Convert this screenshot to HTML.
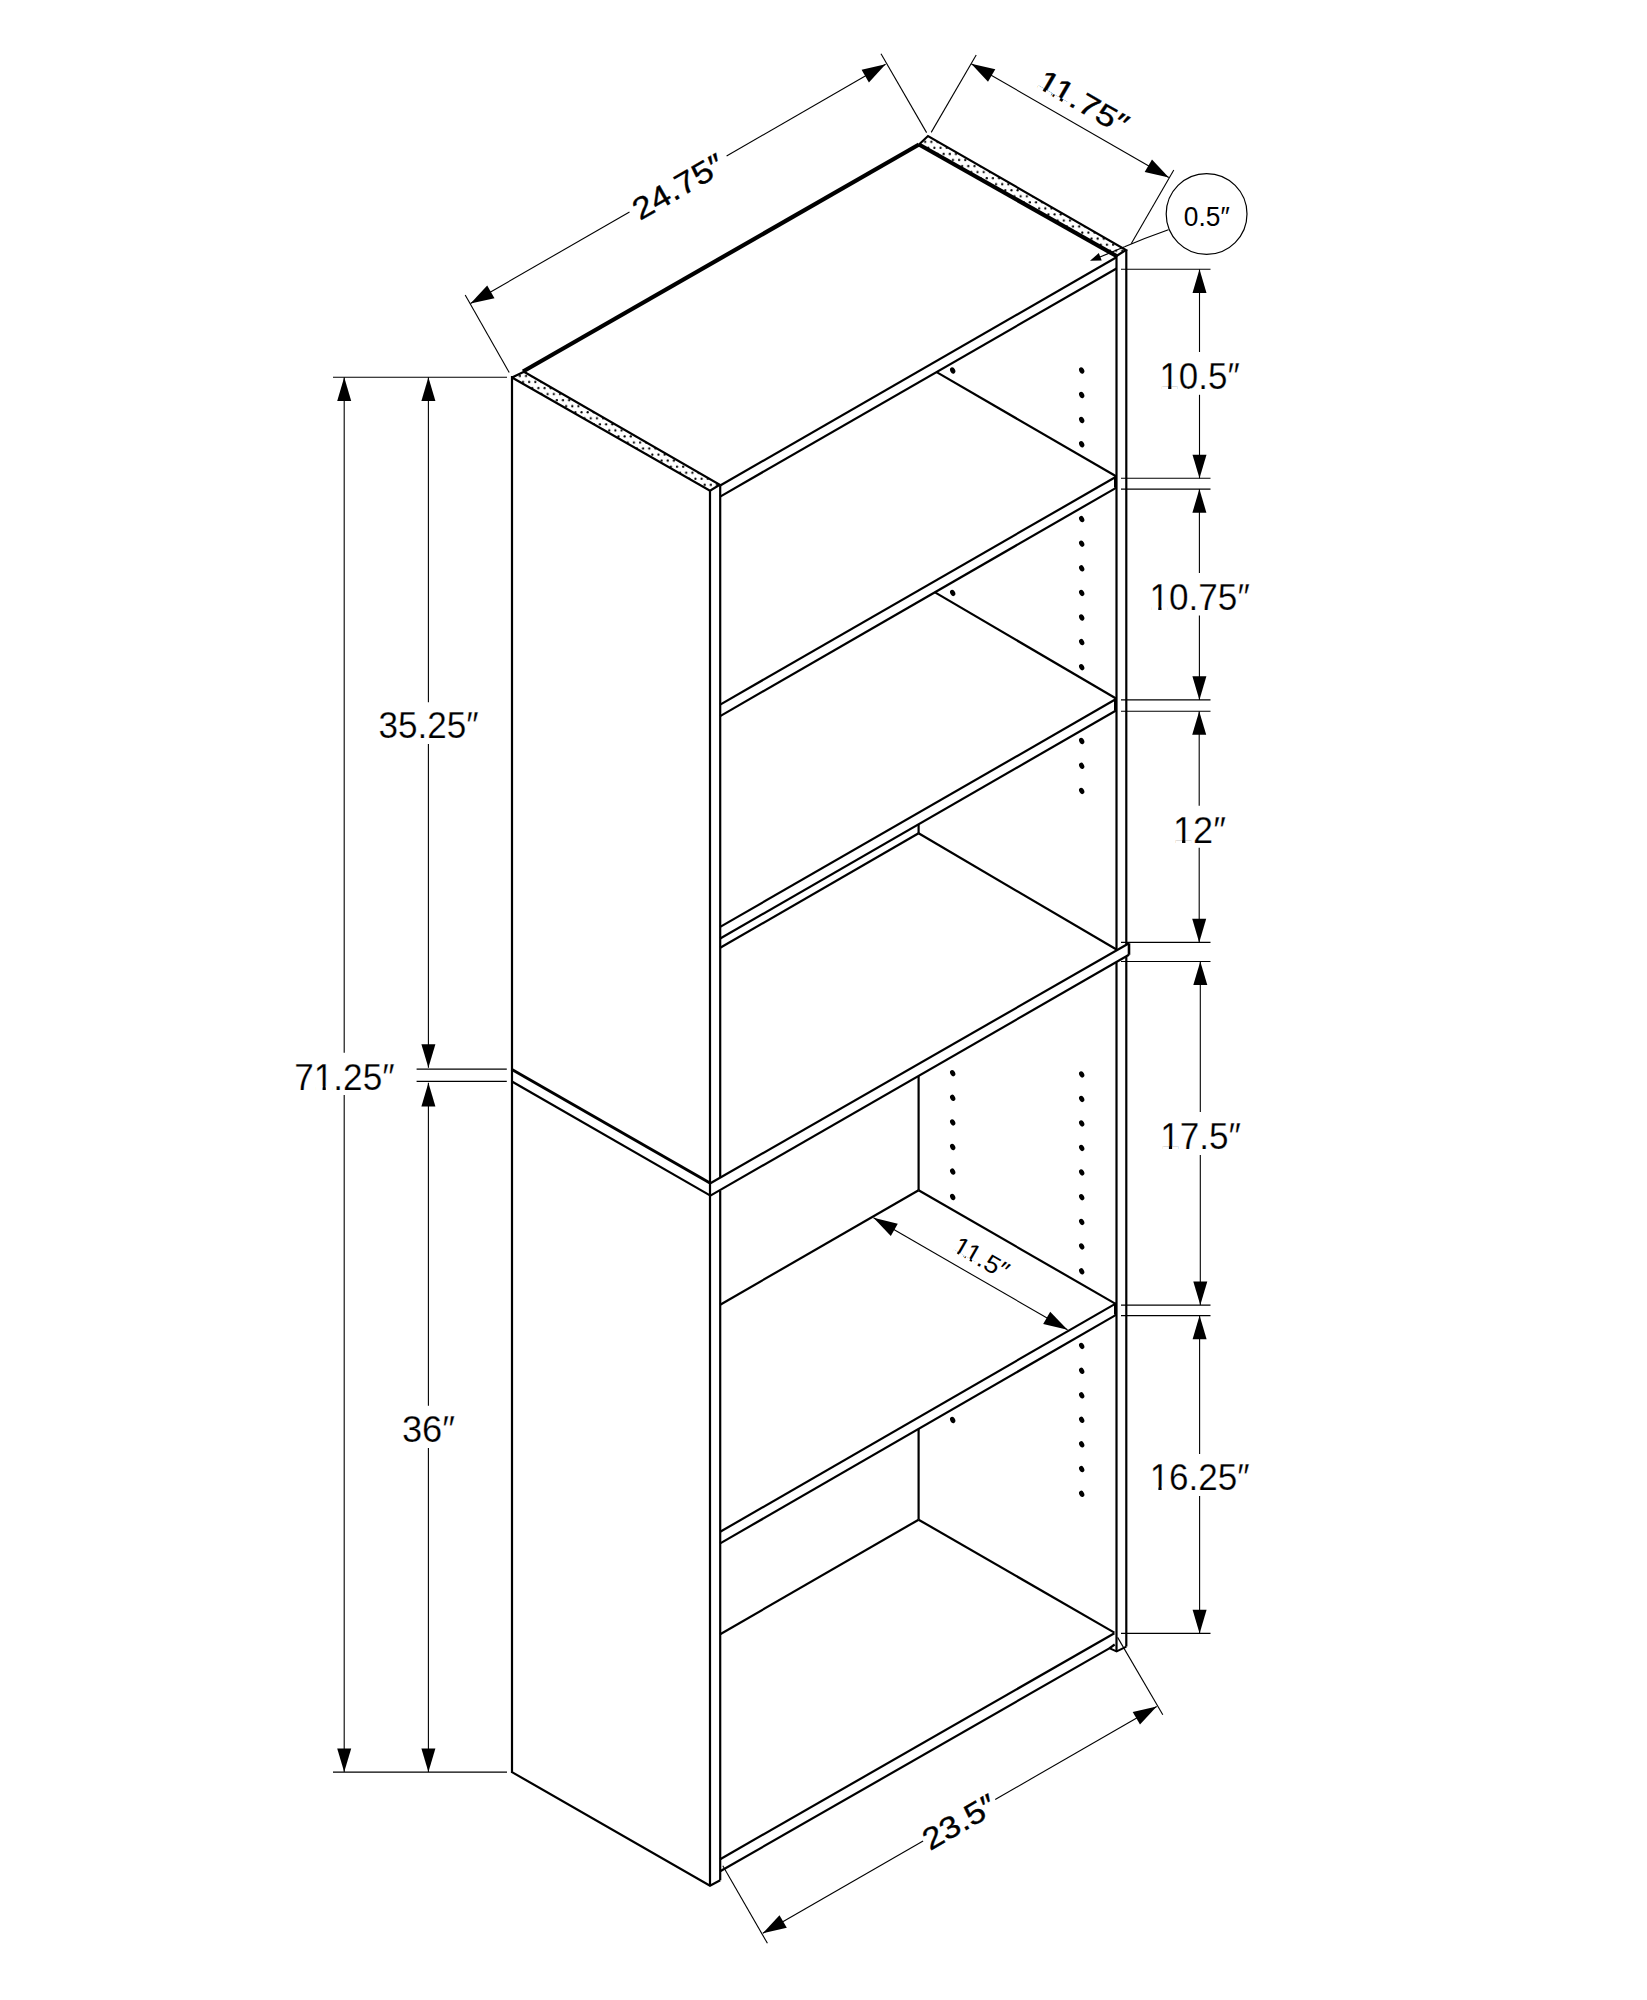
<!DOCTYPE html>
<html><head><meta charset="utf-8"><style>
html,body{margin:0;padding:0;background:#fff;}
svg{display:block;}
text{font-family:"Liberation Sans",sans-serif;fill:#000;stroke:#fff;stroke-width:0.25px;}
</style></head><body>
<svg width="1647" height="2000" viewBox="0 0 1647 2000" stroke="#000" fill="#000">
<rect x="0" y="0" width="1647" height="2000" fill="#fff" stroke="none"/>
<defs><pattern id="pr" patternUnits="userSpaceOnUse" x="923.66" y="138.80" width="6.16" height="12.1"><circle cx="1.54" cy="3.0" r="1.1" fill="#000" stroke="none"/><circle cx="4.62" cy="9.05" r="1.1" fill="#000" stroke="none"/></pattern></defs>
<polygon points="919.0,144.5 928.0,136.0 1126.0,250.0 1116.5,256.0" fill="url(#pr)" stroke="none"/>
<defs><pattern id="pl" patternUnits="userSpaceOnUse" x="536.86" y="385.00" width="6.16" height="12.1"><circle cx="1.54" cy="3.0" r="1.1" fill="#000" stroke="none"/><circle cx="4.62" cy="9.05" r="1.1" fill="#000" stroke="none"/></pattern></defs>
<polygon points="512.0,377.5 524.0,371.8 719.8,484.7 710.0,490.8" fill="url(#pl)" stroke="none"/>
<line x1="512.0" y1="376.0" x2="512.0" y2="1773.0" stroke-width="2.2" stroke-linecap="butt"/>
<line x1="710.0" y1="490.8" x2="710.0" y2="1886.0" stroke-width="2.2" stroke-linecap="butt"/>
<line x1="720.2" y1="485.5" x2="720.2" y2="1177.0" stroke-width="2.2" stroke-linecap="butt"/>
<line x1="720.2" y1="1190.8" x2="720.2" y2="1880.3" stroke-width="2.2" stroke-linecap="butt"/>
<polyline points="512.0,377.5 524.0,371.8 719.8,484.7 710.0,490.8 512.0,377.5" fill="none" stroke-width="2.2" stroke-linejoin="miter"/>
<line x1="523.0" y1="371.5" x2="919.0" y2="144.5" stroke-width="4.2" stroke-linecap="butt"/>
<polyline points="919.0,144.5 928.0,136.0 1126.0,250.0 1116.5,256.0" fill="none" stroke-width="2.2" stroke-linejoin="miter"/>
<line x1="919.0" y1="144.5" x2="1116.5" y2="256.0" stroke-width="4.2" stroke-linecap="butt"/>
<line x1="720.2" y1="485.5" x2="1116.5" y2="257.3" stroke-width="2.2" stroke-linecap="butt"/>
<line x1="720.2" y1="496.6" x2="1116.5" y2="268.5" stroke-width="2.2" stroke-linecap="butt"/>
<line x1="1116.5" y1="256.0" x2="1116.5" y2="950.0" stroke-width="2.2" stroke-linecap="butt"/>
<line x1="1116.5" y1="962.3" x2="1116.5" y2="1651.4" stroke-width="2.2" stroke-linecap="butt"/>
<line x1="1126.3" y1="250.0" x2="1126.3" y2="944.5" stroke-width="2.2" stroke-linecap="butt"/>
<line x1="1126.3" y1="956.8" x2="1126.3" y2="1646.6" stroke-width="2.2" stroke-linecap="butt"/>
<line x1="936.2" y1="371.9" x2="1116.5" y2="476.5" stroke-width="2.2" stroke-linecap="butt"/>
<line x1="720.2" y1="704.6" x2="1116.5" y2="476.5" stroke-width="2.2" stroke-linecap="butt"/>
<line x1="720.2" y1="716.1" x2="1116.5" y2="487.6" stroke-width="2.2" stroke-linecap="butt"/>
<line x1="1115.5" y1="476.5" x2="1115.5" y2="487.6" stroke-width="3" stroke-linecap="butt"/>
<line x1="935.0" y1="592.4" x2="1116.5" y2="698.8" stroke-width="2.2" stroke-linecap="butt"/>
<line x1="720.2" y1="926.9" x2="1116.5" y2="698.8" stroke-width="2.2" stroke-linecap="butt"/>
<line x1="720.2" y1="938.5" x2="1116.5" y2="710.3" stroke-width="2.2" stroke-linecap="butt"/>
<line x1="720.2" y1="947.8" x2="918.6" y2="833.3" stroke-width="2.2" stroke-linecap="butt"/>
<line x1="918.6" y1="824.0" x2="918.6" y2="833.3" stroke-width="2.2" stroke-linecap="butt"/>
<line x1="1115.5" y1="698.8" x2="1115.5" y2="710.3" stroke-width="3" stroke-linecap="butt"/>
<line x1="918.6" y1="833.3" x2="1116.5" y2="949.5" stroke-width="2.2" stroke-linecap="butt"/>
<line x1="710.4" y1="1183.3" x2="1129.0" y2="943.3" stroke-width="2.2" stroke-linecap="butt"/>
<line x1="710.4" y1="1195.6" x2="1129.0" y2="954.8" stroke-width="2.2" stroke-linecap="butt"/>
<line x1="1129.0" y1="943.3" x2="1129.0" y2="954.8" stroke-width="2.6" stroke-linecap="butt"/>
<line x1="511.5" y1="1069.3" x2="710.4" y2="1183.3" stroke-width="3" stroke-linecap="butt"/>
<line x1="511.5" y1="1081.2" x2="710.4" y2="1195.6" stroke-width="2.2" stroke-linecap="butt"/>
<line x1="918.6" y1="1076.0" x2="918.6" y2="1190.2" stroke-width="2.2" stroke-linecap="butt"/>
<line x1="918.6" y1="1190.2" x2="720.2" y2="1304.7" stroke-width="2.2" stroke-linecap="butt"/>
<line x1="918.6" y1="1190.2" x2="1116.5" y2="1304.4" stroke-width="2.2" stroke-linecap="butt"/>
<line x1="720.2" y1="1531.8" x2="1116.5" y2="1303.1" stroke-width="2.2" stroke-linecap="butt"/>
<line x1="720.2" y1="1543.4" x2="1116.5" y2="1314.6" stroke-width="2.2" stroke-linecap="butt"/>
<line x1="1115.5" y1="1303.1" x2="1115.5" y2="1314.6" stroke-width="3" stroke-linecap="butt"/>
<line x1="918.6" y1="1428.9" x2="918.6" y2="1519.7" stroke-width="2.2" stroke-linecap="butt"/>
<line x1="918.6" y1="1519.7" x2="720.2" y2="1634.2" stroke-width="2.2" stroke-linecap="butt"/>
<line x1="918.6" y1="1519.7" x2="1114.4" y2="1632.6" stroke-width="2.2" stroke-linecap="butt"/>
<line x1="720.2" y1="1859.2" x2="1114.4" y2="1633.2" stroke-width="2.2" stroke-linecap="butt"/>
<line x1="720.2" y1="1871.3" x2="1109.3" y2="1648.4" stroke-width="2.2" stroke-linecap="butt"/>
<line x1="1109.3" y1="1648.4" x2="1114.7" y2="1644.5" stroke-width="2.2" stroke-linecap="butt"/>
<polyline points="512.0,1772.1 710.0,1885.8 720.2,1880.3" fill="none" stroke-width="2.2" stroke-linejoin="miter"/>
<polyline points="1109.3,1648.1 1116.6,1651.4 1126.4,1646.6" fill="none" stroke-width="2.0" stroke-linejoin="miter"/>
<ellipse cx="1081.7" cy="370.5" rx="2.4" ry="3.3" transform="rotate(-28 1081.7 370.5)" stroke="none"/>
<ellipse cx="1081.7" cy="395" rx="2.4" ry="3.3" transform="rotate(-28 1081.7 395)" stroke="none"/>
<ellipse cx="1081.7" cy="420" rx="2.4" ry="3.3" transform="rotate(-28 1081.7 420)" stroke="none"/>
<ellipse cx="1081.7" cy="444.25" rx="2.4" ry="3.3" transform="rotate(-28 1081.7 444.25)" stroke="none"/>
<ellipse cx="1081.7" cy="519.1" rx="2.4" ry="3.3" transform="rotate(-28 1081.7 519.1)" stroke="none"/>
<ellipse cx="1081.7" cy="543.7" rx="2.4" ry="3.3" transform="rotate(-28 1081.7 543.7)" stroke="none"/>
<ellipse cx="1081.7" cy="568.3" rx="2.4" ry="3.3" transform="rotate(-28 1081.7 568.3)" stroke="none"/>
<ellipse cx="1081.7" cy="592.9" rx="2.4" ry="3.3" transform="rotate(-28 1081.7 592.9)" stroke="none"/>
<ellipse cx="1081.7" cy="617.5" rx="2.4" ry="3.3" transform="rotate(-28 1081.7 617.5)" stroke="none"/>
<ellipse cx="1081.7" cy="642.1" rx="2.4" ry="3.3" transform="rotate(-28 1081.7 642.1)" stroke="none"/>
<ellipse cx="1081.7" cy="667.2" rx="2.4" ry="3.3" transform="rotate(-28 1081.7 667.2)" stroke="none"/>
<ellipse cx="1081.7" cy="741" rx="2.4" ry="3.3" transform="rotate(-28 1081.7 741)" stroke="none"/>
<ellipse cx="1081.7" cy="765.8" rx="2.4" ry="3.3" transform="rotate(-28 1081.7 765.8)" stroke="none"/>
<ellipse cx="1081.7" cy="790.9" rx="2.4" ry="3.3" transform="rotate(-28 1081.7 790.9)" stroke="none"/>
<ellipse cx="1081.7" cy="1074.4" rx="2.4" ry="3.3" transform="rotate(-28 1081.7 1074.4)" stroke="none"/>
<ellipse cx="1081.7" cy="1098.9" rx="2.4" ry="3.3" transform="rotate(-28 1081.7 1098.9)" stroke="none"/>
<ellipse cx="1081.7" cy="1123.4" rx="2.4" ry="3.3" transform="rotate(-28 1081.7 1123.4)" stroke="none"/>
<ellipse cx="1081.7" cy="1147.9" rx="2.4" ry="3.3" transform="rotate(-28 1081.7 1147.9)" stroke="none"/>
<ellipse cx="1081.7" cy="1172.4" rx="2.4" ry="3.3" transform="rotate(-28 1081.7 1172.4)" stroke="none"/>
<ellipse cx="1081.7" cy="1197.2" rx="2.4" ry="3.3" transform="rotate(-28 1081.7 1197.2)" stroke="none"/>
<ellipse cx="1081.7" cy="1221.9" rx="2.4" ry="3.3" transform="rotate(-28 1081.7 1221.9)" stroke="none"/>
<ellipse cx="1081.7" cy="1246.4" rx="2.4" ry="3.3" transform="rotate(-28 1081.7 1246.4)" stroke="none"/>
<ellipse cx="1081.7" cy="1271.3" rx="2.4" ry="3.3" transform="rotate(-28 1081.7 1271.3)" stroke="none"/>
<ellipse cx="1081.7" cy="1345.9" rx="2.4" ry="3.3" transform="rotate(-28 1081.7 1345.9)" stroke="none"/>
<ellipse cx="1081.7" cy="1370.8" rx="2.4" ry="3.3" transform="rotate(-28 1081.7 1370.8)" stroke="none"/>
<ellipse cx="1081.7" cy="1395.3" rx="2.4" ry="3.3" transform="rotate(-28 1081.7 1395.3)" stroke="none"/>
<ellipse cx="1081.7" cy="1419.8" rx="2.4" ry="3.3" transform="rotate(-28 1081.7 1419.8)" stroke="none"/>
<ellipse cx="1081.7" cy="1444.3" rx="2.4" ry="3.3" transform="rotate(-28 1081.7 1444.3)" stroke="none"/>
<ellipse cx="1081.7" cy="1469.1" rx="2.4" ry="3.3" transform="rotate(-28 1081.7 1469.1)" stroke="none"/>
<ellipse cx="1081.7" cy="1493.8" rx="2.4" ry="3.3" transform="rotate(-28 1081.7 1493.8)" stroke="none"/>
<ellipse cx="952.7" cy="370.5" rx="2.4" ry="3.3" transform="rotate(-28 952.7 370.5)" stroke="none"/>
<ellipse cx="952.7" cy="592.9" rx="2.4" ry="3.3" transform="rotate(-28 952.7 592.9)" stroke="none"/>
<ellipse cx="952.7" cy="1073.2" rx="2.4" ry="3.3" transform="rotate(-28 952.7 1073.2)" stroke="none"/>
<ellipse cx="952.7" cy="1097.8" rx="2.4" ry="3.3" transform="rotate(-28 952.7 1097.8)" stroke="none"/>
<ellipse cx="952.7" cy="1122.4" rx="2.4" ry="3.3" transform="rotate(-28 952.7 1122.4)" stroke="none"/>
<ellipse cx="952.7" cy="1147" rx="2.4" ry="3.3" transform="rotate(-28 952.7 1147)" stroke="none"/>
<ellipse cx="952.7" cy="1171.6" rx="2.4" ry="3.3" transform="rotate(-28 952.7 1171.6)" stroke="none"/>
<ellipse cx="952.7" cy="1197" rx="2.4" ry="3.3" transform="rotate(-28 952.7 1197)" stroke="none"/>
<ellipse cx="952.7" cy="1420" rx="2.4" ry="3.3" transform="rotate(-28 952.7 1420)" stroke="none"/>
<line x1="465.2" y1="295.0" x2="509.2" y2="372.4" stroke-width="1.1" stroke-linecap="butt"/>
<line x1="881.0" y1="53.7" x2="926.6" y2="132.6" stroke-width="1.1" stroke-linecap="butt"/>
<line x1="470.5" y1="303.6" x2="629.5" y2="211.9" stroke-width="1.1" stroke-linecap="butt"/>
<line x1="726.6" y1="156.0" x2="885.6" y2="64.3" stroke-width="1.1" stroke-linecap="butt"/>
<polygon points="470.5,303.6 487.2,285.5 494.5,298.2" stroke="none"/>
<polygon points="885.6,64.3 868.9,82.4 861.6,69.7" stroke="none"/>
<g class="t" transform="rotate(-29.90 0.0 0.0)"><text x="494.90" y="510.49" font-size="30.88" text-anchor="middle" textLength="100.48" lengthAdjust="spacingAndGlyphs" style="stroke:#000;stroke-width:0.35px">24.75″</text></g>
<line x1="976.2" y1="55.0" x2="931.2" y2="132.4" stroke-width="1.1" stroke-linecap="butt"/>
<line x1="1173.8" y1="170.0" x2="1131.2" y2="243.8" stroke-width="1.1" stroke-linecap="butt"/>
<line x1="971.2" y1="63.8" x2="1168.8" y2="177.5" stroke-width="1.1" stroke-linecap="butt"/>
<polygon points="971.2,63.8 995.3,69.2 988.0,81.8" stroke="none"/>
<polygon points="1168.8,177.5 1144.7,172.1 1152.0,159.4" stroke="none"/>
<g class="t" transform="rotate(29.90 0.0 0.0)"><text x="989.92" y="-441.28" font-size="29.47" text-anchor="middle" textLength="99.15" lengthAdjust="spacingAndGlyphs" style="stroke:#000;stroke-width:0.35px">11.75″</text><rect x="942.55" y="-443.75" width="6.47" height="3.47" fill="#fff" stroke="none"/><rect x="952.19" y="-443.75" width="6.29" height="3.47" fill="#fff" stroke="none"/><rect x="961.85" y="-443.75" width="6.47" height="3.47" fill="#fff" stroke="none"/><rect x="971.50" y="-443.75" width="6.29" height="3.47" fill="#fff" stroke="none"/></g>
<circle cx="1206.6" cy="214" r="40.4" fill="none" stroke-width="1.2"/>
<g class="t" transform="rotate(0.002 1206.8 225.8)"><text x="1206.76" y="225.80" font-size="27.62" text-anchor="middle" textLength="45.86" lengthAdjust="spacingAndGlyphs" style="stroke:none">0.5″</text></g>
<path d="M1168.4,229.8 Q1145,238 1124.6,246.8" fill="none" stroke-width="1.2"/>
<line x1="1124.6" y1="246.8" x2="1100.0" y2="257.0" stroke-width="1.2" stroke-linecap="butt"/>
<polygon points="1090.0,260.8 1098.8,253.1 1101.7,260.5" stroke="none"/>
<line x1="1121.0" y1="269.3" x2="1210.5" y2="269.3" stroke-width="1.1" stroke-linecap="butt"/>
<line x1="1121.0" y1="478.3" x2="1210.5" y2="478.3" stroke-width="1.1" stroke-linecap="butt"/>
<line x1="1121.0" y1="489.1" x2="1210.5" y2="489.1" stroke-width="1.1" stroke-linecap="butt"/>
<line x1="1121.0" y1="699.9" x2="1210.5" y2="699.9" stroke-width="1.1" stroke-linecap="butt"/>
<line x1="1121.0" y1="711.2" x2="1210.5" y2="711.2" stroke-width="1.1" stroke-linecap="butt"/>
<line x1="1121.0" y1="942.4" x2="1210.5" y2="942.4" stroke-width="1.1" stroke-linecap="butt"/>
<line x1="1121.0" y1="961.5" x2="1210.5" y2="961.5" stroke-width="1.1" stroke-linecap="butt"/>
<line x1="1121.0" y1="1305.1" x2="1210.5" y2="1305.1" stroke-width="1.1" stroke-linecap="butt"/>
<line x1="1121.0" y1="1315.6" x2="1210.5" y2="1315.6" stroke-width="1.1" stroke-linecap="butt"/>
<line x1="1121.0" y1="1633.4" x2="1210.5" y2="1633.4" stroke-width="1.1" stroke-linecap="butt"/>
<line x1="1199.5" y1="269.3" x2="1199.5" y2="352.0" stroke-width="1.1" stroke-linecap="butt"/>
<line x1="1199.5" y1="394.8" x2="1199.5" y2="478.3" stroke-width="1.1" stroke-linecap="butt"/>
<polygon points="1199.5,269.3 1206.5,292.9 1192.5,292.9" stroke="none"/>
<polygon points="1199.5,478.3 1192.5,454.7 1206.5,454.7" stroke="none"/>
<g class="t" transform="rotate(0.002 1199.6 389.3)"><text x="1199.61" y="389.30" font-size="36.63" text-anchor="middle" textLength="80.31" lengthAdjust="spacingAndGlyphs">10.5″</text><rect x="1161.67" y="386.27" width="6.51" height="4.03" fill="#fff" stroke="none"/><rect x="1171.37" y="386.27" width="6.32" height="4.03" fill="#fff" stroke="none"/></g>
<line x1="1199.4" y1="489.1" x2="1199.4" y2="573.0" stroke-width="1.1" stroke-linecap="butt"/>
<line x1="1199.4" y1="615.4" x2="1199.4" y2="699.9" stroke-width="1.1" stroke-linecap="butt"/>
<polygon points="1199.4,489.1 1206.4,512.7 1192.4,512.7" stroke="none"/>
<polygon points="1199.4,699.9 1192.4,676.3 1206.4,676.3" stroke="none"/>
<g class="t" transform="rotate(0.002 1199.7 609.7)"><text x="1199.67" y="609.70" font-size="36.48" text-anchor="middle" textLength="100.35" lengthAdjust="spacingAndGlyphs">10.75″</text><rect x="1151.73" y="606.69" width="6.55" height="4.01" fill="#fff" stroke="none"/><rect x="1161.49" y="606.69" width="6.36" height="4.01" fill="#fff" stroke="none"/></g>
<line x1="1199.2" y1="711.2" x2="1199.2" y2="805.7" stroke-width="1.1" stroke-linecap="butt"/>
<line x1="1199.2" y1="847.7" x2="1199.2" y2="942.4" stroke-width="1.1" stroke-linecap="butt"/>
<polygon points="1199.2,711.2 1206.2,734.8 1192.2,734.8" stroke="none"/>
<polygon points="1199.2,942.4 1192.2,918.8 1206.2,918.8" stroke="none"/>
<g class="t" transform="rotate(0.002 1199.5 843.2)"><text x="1199.53" y="843.20" font-size="36.92" text-anchor="middle" textLength="53.04" lengthAdjust="spacingAndGlyphs">12″</text><rect x="1175.31" y="840.15" width="6.75" height="4.05" fill="#fff" stroke="none"/><rect x="1185.36" y="840.15" width="6.55" height="4.05" fill="#fff" stroke="none"/></g>
<line x1="1200.3" y1="961.5" x2="1200.3" y2="1112.0" stroke-width="1.1" stroke-linecap="butt"/>
<line x1="1200.3" y1="1154.9" x2="1200.3" y2="1305.1" stroke-width="1.1" stroke-linecap="butt"/>
<polygon points="1200.3,961.5 1207.3,985.1 1193.3,985.1" stroke="none"/>
<polygon points="1200.3,1305.1 1193.3,1281.5 1207.3,1281.5" stroke="none"/>
<g class="t" transform="rotate(0.002 1200.6 1149.2)"><text x="1200.58" y="1149.20" font-size="36.34" text-anchor="middle" textLength="80.90" lengthAdjust="spacingAndGlyphs">17.5″</text><rect x="1162.36" y="1146.20" width="6.56" height="4.00" fill="#fff" stroke="none"/><rect x="1172.13" y="1146.20" width="6.37" height="4.00" fill="#fff" stroke="none"/></g>
<line x1="1199.6" y1="1315.6" x2="1199.6" y2="1453.9" stroke-width="1.1" stroke-linecap="butt"/>
<line x1="1199.6" y1="1495.9" x2="1199.6" y2="1633.4" stroke-width="1.1" stroke-linecap="butt"/>
<polygon points="1199.6,1315.6 1206.6,1339.2 1192.6,1339.2" stroke="none"/>
<polygon points="1199.6,1633.4 1192.6,1609.8 1206.6,1609.8" stroke="none"/>
<g class="t" transform="rotate(0.002 1199.7 1489.8)"><text x="1199.69" y="1489.80" font-size="36.92" text-anchor="middle" textLength="100.10" lengthAdjust="spacingAndGlyphs">16.25″</text><rect x="1151.86" y="1486.75" width="6.54" height="4.05" fill="#fff" stroke="none"/><rect x="1161.60" y="1486.75" width="6.35" height="4.05" fill="#fff" stroke="none"/></g>
<line x1="333.0" y1="377.3" x2="507.0" y2="377.3" stroke-width="1.1" stroke-linecap="butt"/>
<line x1="333.0" y1="1772.1" x2="507.0" y2="1772.1" stroke-width="1.1" stroke-linecap="butt"/>
<line x1="416.6" y1="1069.1" x2="506.8" y2="1069.1" stroke-width="1.1" stroke-linecap="butt"/>
<line x1="416.6" y1="1081.4" x2="506.8" y2="1081.4" stroke-width="1.1" stroke-linecap="butt"/>
<line x1="344.2" y1="377.3" x2="344.2" y2="1052.7" stroke-width="1.1" stroke-linecap="butt"/>
<line x1="344.2" y1="1095.0" x2="344.2" y2="1772.1" stroke-width="1.1" stroke-linecap="butt"/>
<polygon points="344.2,377.3 351.2,400.9 337.2,400.9" stroke="none"/>
<polygon points="344.2,1772.1 337.2,1748.5 351.2,1748.5" stroke="none"/>
<g class="t" transform="rotate(0.002 344.4 1089.6)"><text x="344.43" y="1089.60" font-size="37.06" text-anchor="middle" textLength="100.41" lengthAdjust="spacingAndGlyphs">71.25″</text><rect x="316.01" y="1086.54" width="6.56" height="4.06" fill="#fff" stroke="none"/><rect x="325.77" y="1086.54" width="6.37" height="4.06" fill="#fff" stroke="none"/></g>
<line x1="428.4" y1="377.3" x2="428.4" y2="702.2" stroke-width="1.1" stroke-linecap="butt"/>
<line x1="428.4" y1="744.1" x2="428.4" y2="1067.8" stroke-width="1.1" stroke-linecap="butt"/>
<polygon points="428.4,377.3 435.4,400.9 421.4,400.9" stroke="none"/>
<polygon points="428.4,1067.8 421.4,1044.2 435.4,1044.2" stroke="none"/>
<g class="t" transform="rotate(0.002 428.5 737.9)"><text x="428.51" y="737.90" font-size="37.06" text-anchor="middle" textLength="100.25" lengthAdjust="spacingAndGlyphs">35.25″</text></g>
<line x1="428.4" y1="1082.8" x2="428.4" y2="1405.8" stroke-width="1.1" stroke-linecap="butt"/>
<line x1="428.4" y1="1448.1" x2="428.4" y2="1772.1" stroke-width="1.1" stroke-linecap="butt"/>
<polygon points="428.4,1082.8 435.4,1106.4 421.4,1106.4" stroke="none"/>
<polygon points="428.4,1772.1 421.4,1748.5 435.4,1748.5" stroke="none"/>
<g class="t" transform="rotate(0.002 428.5 1441.8)"><text x="428.49" y="1441.80" font-size="37.06" text-anchor="middle" textLength="53.22" lengthAdjust="spacingAndGlyphs">36″</text></g>
<line x1="722.8" y1="1865.8" x2="767.4" y2="1943.2" stroke-width="1.1" stroke-linecap="butt"/>
<line x1="1117.6" y1="1637.4" x2="1162.8" y2="1714.8" stroke-width="1.1" stroke-linecap="butt"/>
<line x1="762.8" y1="1933.2" x2="923.1" y2="1841.0" stroke-width="1.1" stroke-linecap="butt"/>
<line x1="995.2" y1="1799.5" x2="1156.7" y2="1706.6" stroke-width="1.1" stroke-linecap="butt"/>
<polygon points="762.8,1933.2 779.5,1915.2 786.8,1927.8" stroke="none"/>
<polygon points="1156.7,1706.6 1140.0,1724.6 1132.7,1712.0" stroke="none"/>
<g class="t" transform="rotate(-29.90 0.0 0.0)"><text x="-76.62" y="2068.17" font-size="30.62" text-anchor="middle" textLength="79.59" lengthAdjust="spacingAndGlyphs" style="stroke:#000;stroke-width:0.35px">23.5″</text></g>
<line x1="873.5" y1="1217.8" x2="1067.5" y2="1329.8" stroke-width="1.1" stroke-linecap="butt"/>
<polygon points="873.5,1217.8 897.8,1223.7 890.8,1235.9" stroke="none"/>
<polygon points="1067.5,1329.8 1043.2,1323.9 1050.2,1311.7" stroke="none"/>
<g class="t" transform="rotate(30.00 0.0 0.0)"><text x="1478.78" y="607.12" font-size="24.66" text-anchor="middle" textLength="59.87" lengthAdjust="spacingAndGlyphs" style="stroke:none">11.5″</text><rect x="1450.50" y="605.01" width="4.85" height="3.10" fill="#fff" stroke="none"/><rect x="1457.73" y="605.01" width="4.72" height="3.10" fill="#fff" stroke="none"/><rect x="1464.98" y="605.01" width="4.85" height="3.10" fill="#fff" stroke="none"/><rect x="1472.21" y="605.01" width="4.72" height="3.10" fill="#fff" stroke="none"/></g>
</svg></body></html>
